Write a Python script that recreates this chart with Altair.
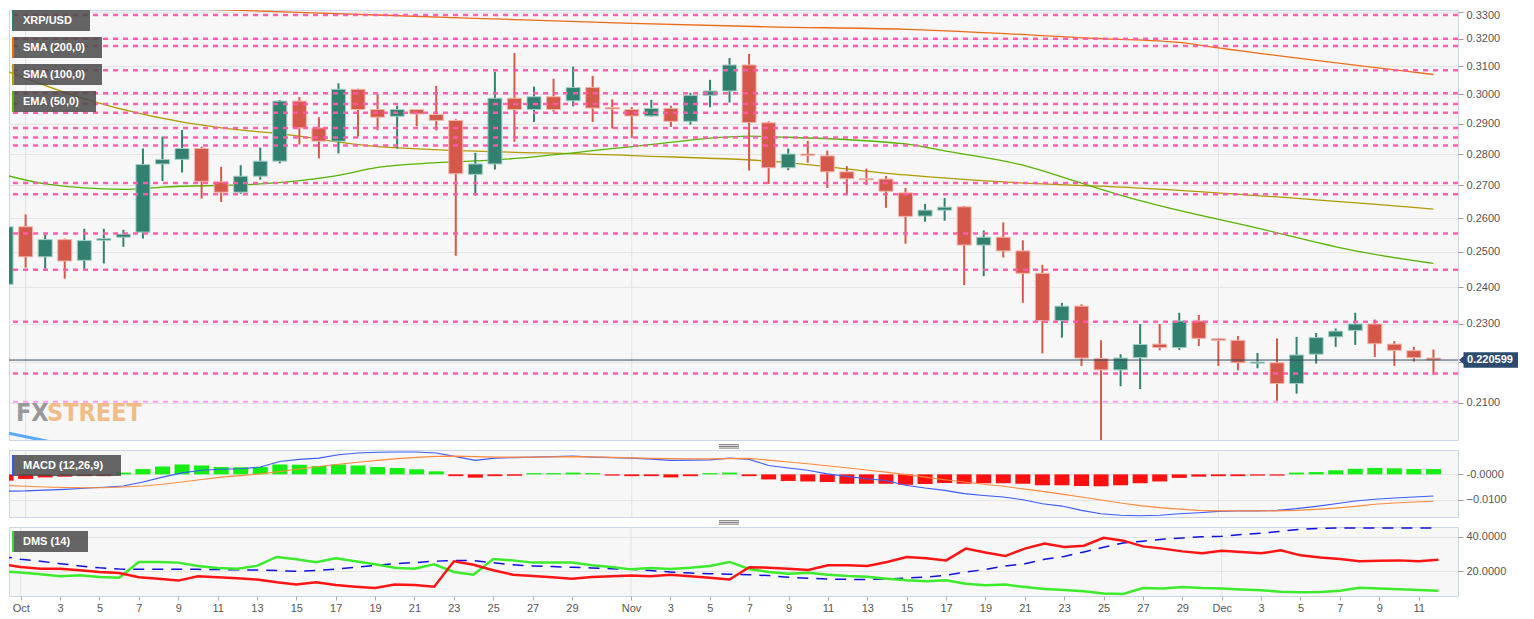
import altair as alt
import pandas as pd

FONT = "Liberation Sans"

# ---------------- data ----------------
dates = [d.strftime("%Y-%m-%d") for d in pd.date_range("2018-09-30", "2018-12-12", freq="D")]

opens = [0.2408,
         0.2574, 0.2486, 0.2536, 0.2476, 0.2534, 0.2543, 0.2558, 0.2768, 0.2783, 0.2818,
         0.2711, 0.2679, 0.2729, 0.2777, 0.2977, 0.2886, 0.2842, 0.3018, 0.2948, 0.2925,
         0.2948, 0.2931, 0.2911, 0.2735, 0.2768, 0.2987, 0.2948, 0.2992, 0.2978, 0.3024, 0.2955,
         0.2948, 0.2926, 0.2952, 0.2908, 0.2997, 0.3012, 0.3104, 0.2903, 0.2756, 0.2800,
         0.2794, 0.2743, 0.2722, 0.2720, 0.2677, 0.2606, 0.2624, 0.2634, 0.2520, 0.2543,
         0.2503, 0.2439, 0.2309, 0.2348, 0.2210, 0.2181, 0.2212, 0.2247, 0.2238, 0.2308,
         0.2261, 0.2257, 0.2198, 0.2199, 0.2147, 0.2221, 0.2266, 0.2283, 0.2300, 0.2247, 0.2230, 0.2211]
highs = [0.2621,
         0.2611, 0.2551, 0.2539, 0.2568, 0.2568, 0.2565, 0.2818, 0.2857, 0.2879, 0.2824,
         0.2759, 0.2764, 0.2821, 0.2981, 0.2991, 0.2922, 0.3039, 0.3020, 0.3000, 0.2961,
         0.2950, 0.3030, 0.2915, 0.2804, 0.3080, 0.3147, 0.3027, 0.3055, 0.3098, 0.3065, 0.2983,
         0.2956, 0.2981, 0.2961, 0.3006, 0.3051, 0.3129, 0.3144, 0.2908, 0.2818, 0.2843,
         0.2811, 0.2761, 0.2753, 0.2730, 0.2692, 0.2643, 0.2661, 0.2637, 0.2563, 0.2587,
         0.2534, 0.2463, 0.2357, 0.2353, 0.2257, 0.2221, 0.2300, 0.2300, 0.2330, 0.2324,
         0.2263, 0.2268, 0.2224, 0.2262, 0.2266, 0.2276, 0.2288, 0.2330, 0.2312, 0.2255, 0.2240, 0.2233]
lows = [0.2357,
        0.2455, 0.2452, 0.2424, 0.2452, 0.2467, 0.2515, 0.2539, 0.2714, 0.2741, 0.2659,
        0.2649, 0.2674, 0.2718, 0.2770, 0.2831, 0.2786, 0.2802, 0.2857, 0.2878, 0.2818,
        0.2892, 0.2878, 0.2489, 0.2669, 0.2750, 0.2840, 0.2906, 0.2941, 0.2959, 0.2906, 0.2884,
        0.2853, 0.2924, 0.2889, 0.2897, 0.2956, 0.2972, 0.2747, 0.2705, 0.2748, 0.2772,
        0.2692, 0.2671, 0.2702, 0.2631, 0.2524, 0.2589, 0.2592, 0.2406, 0.2431, 0.2484,
        0.2357, 0.2223, 0.2264, 0.2191, 0.2005, 0.2140, 0.2133, 0.2231, 0.2232, 0.2242,
        0.2191, 0.2180, 0.2185, 0.2103, 0.2122, 0.2197, 0.2240, 0.2245, 0.2214, 0.2191, 0.2202, 0.2169]
closes = [0.2574,
          0.2486, 0.2536, 0.2474, 0.2533, 0.2539, 0.2552, 0.2766, 0.2782, 0.2818, 0.2713,
          0.2679, 0.2729, 0.2777, 0.2977, 0.2886, 0.2842, 0.3018, 0.2948, 0.2922, 0.2948,
          0.2933, 0.2911, 0.2737, 0.2768, 0.2987, 0.2948, 0.2992, 0.2948, 0.3024, 0.2953, 0.2950,
          0.2926, 0.2952, 0.2908, 0.2997, 0.3012, 0.3104, 0.2904, 0.2756, 0.2800, 0.2795,
          0.2743, 0.2721, 0.2718, 0.2682, 0.2605, 0.2624, 0.2633, 0.2520, 0.2543, 0.2503,
          0.2439, 0.2309, 0.2348, 0.2211, 0.2181, 0.2211, 0.2246, 0.2238, 0.2308, 0.2262,
          0.2257, 0.2199, 0.2201, 0.2147, 0.2219, 0.2264, 0.2281, 0.2300, 0.2248, 0.2231, 0.2212, 0.220599]

level_lines = [0.3289, 0.3200, 0.3173, 0.3085, 0.3004, 0.2967, 0.2937, 0.2886, 0.2854,
               0.2828, 0.2708, 0.2673, 0.2554, 0.2449, 0.2306, 0.2172]
level_minor = [0.2102]

sma200_dates = ["2018-09-30", "2018-10-19", "2018-11-01", "2018-11-08", "2018-11-15",
                "2018-11-25", "2018-11-29", "2018-12-01", "2018-12-12"]
sma200_vals = [0.3336, 0.3289, 0.3257, 0.3244, 0.3235, 0.3200, 0.3186, 0.3166, 0.3070]

sma100_dates = ["2018-09-30", "2018-10-04", "2018-10-11", "2018-10-14", "2018-10-19", "2018-11-01",
                "2018-11-08", "2018-11-15", "2018-11-20", "2018-11-27", "2018-12-12"]
sma100_vals = [0.3083, 0.2985, 0.2886, 0.2867, 0.2824, 0.2795, 0.2777, 0.2733, 0.2711, 0.2692, 0.2627]

ema50_dates = ["2018-09-30", "2018-10-02", "2018-10-06", "2018-10-08", "2018-10-13", "2018-10-17",
               "2018-10-19", "2018-10-22", "2018-10-25", "2018-11-01", "2018-11-07", "2018-11-08",
               "2018-11-15", "2018-11-17", "2018-11-21", "2018-11-24", "2018-11-27", "2018-12-03",
               "2018-12-08", "2018-12-12"]
ema50_vals = [0.2732, 0.2705, 0.2688, 0.2695, 0.2705, 0.2732, 0.2757, 0.2772, 0.2781, 0.2824,
              0.2859, 0.2857, 0.2833, 0.2810, 0.2764, 0.2707, 0.2653, 0.2570, 0.2503, 0.2467]

extra_dates = ["2018-09-30", "2018-10-03"]
extra_vals = [0.2028, 0.2000]

last_price = 0.220599

macd_hist = [-0.0025,
             -0.0018, -0.0012, -0.0009, -0.0007, -0.0007, 0.0007, 0.0021, 0.0031, 0.0039, 0.0035,
             0.0029, 0.0028, 0.0029, 0.0039, 0.0038, 0.0033, 0.0039, 0.0035, 0.0029, 0.0025,
             0.0020, 0.0012, -0.0007, -0.0013, -0.0007, -0.0005, 0.0005, 0.0005, 0.0007, 0.0005, -0.0005,
             -0.0007, -0.0007, -0.0012, -0.0007, 0.0005, 0.0007, -0.0007, -0.0020, -0.0026, -0.0028,
             -0.0030, -0.0037, -0.0037, -0.0037, -0.0041, -0.0038, -0.0034, -0.0037, -0.0035, -0.0035,
             -0.0037, -0.0043, -0.0043, -0.0046, -0.0047, -0.0043, -0.0035, -0.0028, -0.0014, -0.0009,
             -0.0007, -0.0007, -0.0005, -0.0005, 0.0007, 0.0009, 0.0016, 0.0022, 0.0025, 0.0024, 0.0021, 0.0021]
macd_line = [-0.0066,
             -0.0065, -0.0062, -0.0059, -0.0055, -0.0051, -0.0046, -0.0030, -0.0011, 0.0006, 0.0016,
             0.0020, 0.0022, 0.0029, 0.0051, 0.0059, 0.0064, 0.0077, 0.0084, 0.0087, 0.0088,
             0.0088, 0.0084, 0.0070, 0.0055, 0.0064, 0.0066, 0.0068, 0.0070, 0.0072, 0.0068, 0.0066,
             0.0064, 0.0060, 0.0055, 0.0056, 0.0057, 0.0064, 0.0059, 0.0035, 0.0025, 0.0016,
             0.0002, -0.0008, -0.0017, -0.0024, -0.0043, -0.0054, -0.0063, -0.0076, -0.0083, -0.0089,
             -0.0100, -0.0116, -0.0125, -0.0142, -0.0155, -0.0161, -0.0163, -0.0161, -0.0155, -0.0151,
             -0.0146, -0.0144, -0.0144, -0.0142, -0.0135, -0.0126, -0.0116, -0.0105, -0.0098, -0.0093, -0.0089, -0.0085]
macd_signal = [-0.0044,
               -0.0047, -0.0050, -0.0052, -0.0053, -0.0053, -0.0050, -0.0046, -0.0039, -0.0030, -0.0020,
               -0.0011, -0.0005, 0.0002, 0.0011, 0.0021, 0.0031, 0.0040, 0.0048, 0.0055, 0.0062,
               0.0067, 0.0071, 0.0072, 0.0070, 0.0068, 0.0068, 0.0068, 0.0069, 0.0070, 0.0069, 0.0067,
               0.0065, 0.0063, 0.0062, 0.0061, 0.0061, 0.0062, 0.0063, 0.0056, 0.0049, 0.0042,
               0.0034, 0.0026, 0.0017, 0.0009, -0.0001, -0.0011, -0.0021, -0.0030, -0.0039, -0.0047,
               -0.0057, -0.0067, -0.0078, -0.0089, -0.0101, -0.0113, -0.0123, -0.0131, -0.0137, -0.0142,
               -0.0144, -0.0144, -0.0144, -0.0144, -0.0142, -0.0138, -0.0133, -0.0126, -0.0118, -0.0113, -0.0109, -0.0106]

di_plus = [20.0,
           19.3, 18.3, 17.1, 17.7, 16.7, 16.3, 25.4, 25.4, 25.0, 23.1,
           21.9, 21.5, 23.1, 28.3, 26.9, 25.2, 27.5, 25.8, 24.0, 22.1,
           21.5, 24.0, 19.6, 18.0, 27.1, 26.3, 25.0, 25.0, 25.0, 23.5, 22.5,
           21.1, 21.9, 21.3, 22.0, 23.1, 25.4, 21.3, 19.6, 18.6, 19.2,
           18.0, 17.3, 16.9, 15.7, 14.8, 14.2, 14.8, 12.8, 11.9, 12.3,
           10.9, 9.8, 9.2, 8.4, 7.1, 6.9, 10.3, 10.0, 10.9, 10.3,
           10.0, 9.4, 9.0, 8.2, 7.8, 8.0, 8.8, 10.5, 10.0, 9.6, 9.2, 8.8]
di_minus = [24.2,
            22.5, 21.5, 21.5, 20.6, 19.6, 19.0, 16.5, 15.7, 14.6, 17.1,
            16.5, 15.9, 15.2, 13.6, 12.3, 13.6, 12.1, 11.1, 10.3, 12.3,
            12.1, 11.1, 25.8, 23.8, 20.6, 18.0, 17.3, 16.5, 15.7, 16.7, 17.1,
            17.5, 17.1, 18.0, 17.1, 16.3, 15.2, 22.3, 22.1, 21.5, 20.8,
            23.5, 23.5, 23.1, 25.4, 28.3, 27.5, 26.3, 33.1, 30.8, 28.8,
            33.1, 36.0, 34.0, 34.8, 39.4, 37.7, 34.4, 33.1, 31.5, 30.4,
            31.9, 31.2, 30.4, 32.1, 29.2, 27.9, 27.1, 25.8, 26.1, 26.3, 25.8, 26.7]
adx = [28.8,
       26.9, 25.8, 24.4, 23.1, 22.0, 21.3, 21.1, 21.1, 21.1, 21.1,
       21.0, 20.9, 20.7, 20.4, 20.0, 20.4, 21.3, 22.3, 23.3, 24.4,
       25.0, 25.8, 26.3, 26.1, 25.0, 23.7, 23.1, 22.7, 22.3, 21.9, 21.5,
       21.1, 20.4, 19.6, 19.0, 18.6, 18.3, 18.0, 17.5, 16.5, 16.0,
       15.5, 15.3, 15.3, 15.5, 16.1, 16.6, 17.7, 19.6, 21.0, 23.1,
       24.4, 26.9, 28.6, 31.2, 33.9, 36.4, 37.4, 38.5, 39.3, 39.9,
       40.2, 41.2, 42.0, 43.1, 44.3, 44.8, 45.0, 45.0, 45.0, 45.0, 45.0, 45.0]

month_starts = ["2018-10-01", "2018-11-01", "2018-12-01"]
tick_dates = ([f"2018-10-{d:02d}" for d in range(1, 30, 2)] +
              [f"2018-11-{d:02d}" for d in range(1, 30, 2)] +
              [f"2018-12-{d:02d}" for d in range(1, 12, 2)])
main_ticks = [0.21, 0.22, 0.23, 0.24, 0.25, 0.26, 0.27, 0.28, 0.29, 0.30, 0.31, 0.32, 0.33]
macd_ticks = [0.0, -0.01]
dms_ticks = [20, 40]

main_labels = ["XRP/USD", "SMA (200,0)", "SMA (100,0)", "EMA (50,0)"]
main_label_colors = ["#2f7e6c", "#f06a00", "#b0a000", "#58b800"]

# ---------------- styles / layout ----------------
GREEN, RED = "#318070", "#d5594a"
GREEN_EDGE, RED_EDGE = "#a4cfc4", "#f1b6ab"
PINK, VIOLET = "#ff58ab", "#ff9cf2"
W = 1449
H_MAIN, H_MACD, H_DMS = 430, 67, 69
LABEL_W = [78, 90, 90, 84]

ORIGIN = pd.Timestamp("2018-10-01")


def to_day(ds):
    return [(pd.Timestamp(d) - ORIGIN).days for d in ds]


xs = alt.Scale(domain=[-0.594, 73.0], nice=False, zero=False)
ys_main = alt.Scale(type="log", domain=[0.2011, 0.3308], nice=False)
ys_macd = alt.Scale(domain=[-0.0168, 0.0096], nice=False, zero=False)
ys_dms = alt.Scale(domain=[5.7, 45.6], nice=False, zero=False)

axis_common = dict(orient="right", grid=True, gridColor="#e4e4e4", domain=False, tickColor="#9a9a9a",
                   tickSize=5, labelColor="#555555", labelFontSize=11, labelFont=FONT, labelPadding=3,
                   title=None)

main_axis = alt.Axis(values=main_ticks,
                     labelExpr="abs(datum.value - 0.22) < 0.001 ? '' : format(datum.value, '.4f')",
                     labelOffset={"condition": {"test": "datum.value > 0.329", "value": 3}, "value": 0},
                     **axis_common)
macd_axis = alt.Axis(values=macd_ticks,
                     labelExpr="datum.value == 0 ? '-0.0000' : format(datum.value, '.4f')",
                     **axis_common)
dms_axis = alt.Axis(values=dms_ticks, format=".4f", **axis_common)

tick_days = to_day(tick_dates)
label_arr = [""] * 80
for ds, dd in zip(tick_dates, tick_days):
    t = pd.Timestamp(ds)
    label_arr[dd] = t.strftime("%b") if t.day == 1 else str(t.day)
x_label_expr = "[" + ",".join("'%s'" % s for s in label_arr) + "][datum.value]"
x_axis = alt.Axis(values=tick_days, labelExpr=x_label_expr, grid=False, domain=False, ticks=True,
                  tickSize=4, tickColor="#aaaaaa", labelColor="#555555", labelFontSize=11,
                  labelFont=FONT, labelPadding=2, title=None, labelOverlap=False, labelFlush=False)

X_PLAIN = alt.X("day:Q", scale=xs, axis=None)
X_AXIS = alt.X("day:Q", scale=xs, axis=x_axis)

months_df = pd.DataFrame({"day": to_day(month_starts)})


def month_rules(xenc):
    return alt.Chart(months_df).mark_rule(color="#e2e2e2", strokeWidth=1, clip=True).encode(x=xenc)


def label_box(text, color, y0, width):
    d = pd.DataFrame({"t": [text]})
    box = alt.Chart(d).mark_rect(fill="#4a4a4a", opacity=0.85).encode(
        x=alt.value(3), x2=alt.value(3 + width), y=alt.value(y0), y2=alt.value(y0 + 21))
    bar = alt.Chart(d).mark_rect(fill=color).encode(
        x=alt.value(3), x2=alt.value(5), y=alt.value(y0), y2=alt.value(y0 + 21))
    txt = alt.Chart(d).mark_text(align="left", baseline="middle", color="white", fontSize=11,
                                 fontWeight="bold", font=FONT).encode(
        x=alt.value(14), y=alt.value(y0 + 11), text="t:N")
    return [box, bar, txt]


def handle(ys_vals):
    d = pd.DataFrame({"k": [0]})
    return [alt.Chart(d).mark_rule(color="#777777", strokeWidth=1).encode(
        x=alt.value(710), x2=alt.value(730), y=alt.value(v)) for v in ys_vals]


def YM(field):
    return alt.Y(field, scale=ys_main, axis=main_axis)


# ---------------- main panel ----------------
candles = pd.DataFrame({"day": to_day(dates), "open": opens, "high": highs, "low": lows, "close": closes})
UP = "datum.close >= datum.open"

wicks = alt.Chart(candles).mark_rule(strokeWidth=2, clip=True).encode(
    x=X_PLAIN, y=YM("low:Q"), y2="high:Q",
    color=alt.condition(UP, alt.value(GREEN), alt.value(RED)))
bodies = alt.Chart(candles).mark_bar(width=14, strokeWidth=1, clip=True).encode(
    x=X_PLAIN, y=YM("open:Q"), y2="close:Q",
    fill=alt.condition(UP, alt.value(GREEN), alt.value(RED)),
    stroke=alt.condition(UP, alt.value(GREEN_EDGE), alt.value(RED_EDGE)))


def ma_line(ds, vals, color, width=1.3):
    df = pd.DataFrame({"day": to_day(ds), "v": vals})
    return alt.Chart(df).mark_line(color=color, strokeWidth=width, clip=True,
                                   interpolate="monotone").encode(x=X_PLAIN, y=YM("v:Q"))


pink = alt.Chart(pd.DataFrame({"level": level_lines})).mark_rule(
    color=PINK, strokeWidth=2.5, strokeDash=[5, 5], opacity=0.95, clip=True).encode(y=YM("level:Q"))
violet = alt.Chart(pd.DataFrame({"level": level_minor})).mark_rule(
    color=VIOLET, strokeWidth=2, strokeDash=[5, 5], clip=True).encode(y=YM("level:Q"))

last_df = pd.DataFrame({"p": [last_price], "t": [f"{last_price:.6f}"]})
price_line = alt.Chart(last_df).mark_rule(color="#34495e", strokeWidth=1, clip=True).encode(y=YM("p:Q"))
TAG = "M-0.983,0 L-0.833,-0.133 L-0.833,-0.26 L0.983,-0.26 L0.983,0.26 L-0.833,0.26 L-0.833,0.133 Z"
price_tag = alt.Chart(last_df).mark_point(shape=TAG, size=3600, filled=True, fill="#2d4b6e",
                                          strokeWidth=0, opacity=1).encode(
    x=alt.value(1479.5), y=YM("p:Q"))
price_txt = alt.Chart(last_df).mark_text(color="white", fontSize=11, fontWeight="bold", font=FONT,
                                         align="center", baseline="middle").encode(
    x=alt.value(1481), y=YM("p:Q"), text="t:N")

wm = pd.DataFrame({"a": ["FX"], "b": ["STREET"]})
wm_fx = alt.Chart(wm).mark_text(font="DejaVu Sans Condensed", fontWeight="bold", fontSize=25,
                                color="#8f8f8f", align="left", baseline="alphabetic", opacity=0.9).encode(
    x=alt.value(7), y=alt.value(411), text="a:N")
wm_st = alt.Chart(wm).mark_text(font="DejaVu Sans Condensed", fontWeight="bold", fontSize=25,
                                color="#f0b473", align="left", baseline="alphabetic", opacity=0.85).encode(
    x=alt.value(38), y=alt.value(411), text="b:N")

main_layers = [month_rules(X_PLAIN), wm_fx, wm_st,
               ma_line(sma200_dates, sma200_vals, "#ee6a14"),
               ma_line(sma100_dates, sma100_vals, "#b09a00"),
               ma_line(ema50_dates, ema50_vals, "#56b400"),
               ma_line(extra_dates, extra_vals, "#5aa8ff", 3),
               wicks, bodies, pink, violet, price_line]
for i, (lab, col) in enumerate(zip(main_labels, main_label_colors)):
    main_layers += label_box(lab, col, i * 27, LABEL_W[i])
main_layers += [price_tag, price_txt]
main = alt.layer(*main_layers).properties(width=W, height=H_MAIN)

# ---------------- MACD panel ----------------
ind = pd.DataFrame({"day": to_day(dates), "hist": macd_hist, "macd": macd_line, "sig": macd_signal,
                    "dip": di_plus, "dim": di_minus, "adx": adx})


def YC(field):
    return alt.Y(field, scale=ys_macd, axis=macd_axis)


hist = alt.Chart(ind).mark_bar(width=15, clip=True).encode(
    x=X_PLAIN, y=YC("hist:Q"), y2=alt.datum(0),
    color=alt.condition("datum.hist >= 0", alt.value("#14ee14"), alt.value("#ff1010")))
macd_l = alt.Chart(ind).mark_line(color="#3a5cff", strokeWidth=1.1, clip=True).encode(
    x=X_PLAIN, y=YC("macd:Q"))
sig_l = alt.Chart(ind).mark_line(color="#ff8a3a", strokeWidth=1.1, clip=True).encode(
    x=X_PLAIN, y=YC("sig:Q"))
macd_layers = [month_rules(X_PLAIN), hist, macd_l, sig_l] + \
    label_box("MACD (12,26,9)", "#3355ff", 5, 109) + handle([-5.3, -3.6, -1.9])
macd = alt.layer(*macd_layers).properties(width=W, height=H_MACD)


# ---------------- DMS panel ----------------
def YD(field):
    return alt.Y(field, scale=ys_dms, axis=dms_axis)


adx_l = alt.Chart(ind).mark_line(color="#1010e0", strokeWidth=1.5, strokeDash=[11, 8], clip=True).encode(
    x=X_AXIS, y=YD("adx:Q"))
dip_l = alt.Chart(ind).mark_line(color="#3cec2c", strokeWidth=2.5, clip=True).encode(
    x=X_AXIS, y=YD("dip:Q"))
dim_l = alt.Chart(ind).mark_line(color="#ff1414", strokeWidth=2.5, clip=True).encode(
    x=X_AXIS, y=YD("dim:Q"))
dms_layers = [month_rules(X_AXIS), adx_l, dip_l, dim_l] + \
    label_box("DMS (14)", "#33dd33", 4, 76) + handle([-6.3, -4.6, -2.9])
dms = alt.layer(*dms_layers).properties(width=W, height=H_DMS)

chart = alt.vconcat(main, macd, dms, spacing=10, bounds="flush").properties(
    padding=0, background="white"
).configure_view(fill="#f7f7f7", stroke="#cdd4e4", strokeWidth=1)

chart.save("out.html", embed_options={"renderer": "svg", "actions": False})
